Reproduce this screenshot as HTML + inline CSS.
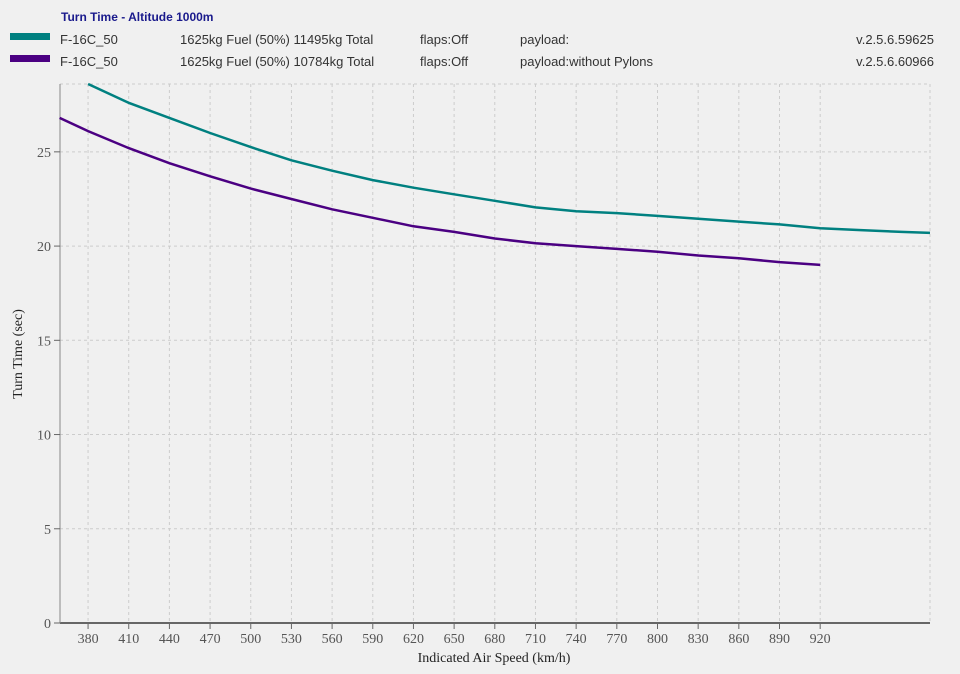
<!DOCTYPE html>
<html><head><meta charset="utf-8"><style>
body{margin:0;background:#f0f0f0;font-family:"Liberation Sans",sans-serif;}
svg{display:block}
</style></head><body>
<svg id="c" width="960" height="674">
<text x="61" y="21" font-size="12" font-weight="bold" fill="#1a1a8c">Turn Time - Altitude 1000m</text>
<g font-size="13" fill="#333">
<rect x="10" y="33" width="40" height="7" fill="#008080"/>
<text x="60" y="44">F-16C_50</text><text x="180" y="44">1625kg Fuel (50%) 11495kg Total</text>
<text x="420" y="44">flaps:Off</text><text x="520" y="44">payload:</text><text x="934" y="44" text-anchor="end">v.2.5.6.59625</text></g>
<g font-size="13" fill="#333">
<rect x="10" y="55" width="40" height="7" fill="#4b0082"/>
<text x="60" y="66">F-16C_50</text><text x="180" y="66">1625kg Fuel (50%) 10784kg Total</text>
<text x="420" y="66">flaps:Off</text><text x="520" y="66">payload:without Pylons</text><text x="934" y="66" text-anchor="end">v.2.5.6.60966</text></g>
<g id="grid"></g><g id="axes"></g><g id="series"></g>
<text x="494" y="662" text-anchor="middle" font-family="Liberation Serif,serif" font-size="14" fill="#222">Indicated Air Speed (km/h)</text>
<text transform="translate(22,354) rotate(-90)" text-anchor="middle" font-family="Liberation Serif,serif" font-size="14" fill="#222">Turn Time (sec)</text>
</svg>
<script>
const xTicks=[380,410,440,470,500,530,560,590,620,650,680,710,740,770,800,830,860,890,920];
const yTicks=[0,5,10,15,20,25];
const tealX=[380,410,440,470,500,530,560,590,620,650,680,710,740,770,800,830,860,890,920,950,980,1001];
const tealY=[28.6,27.6,26.8,26.0,25.25,24.55,24.0,23.5,23.1,22.75,22.4,22.05,21.85,21.75,21.6,21.45,21.3,21.15,20.95,20.85,20.75,20.7];
const purpX=[359,380,410,440,470,500,530,560,590,620,650,680,710,740,770,800,830,860,890,920];
const purpY=[26.8,26.1,25.2,24.4,23.7,23.05,22.5,21.95,21.5,21.05,20.75,20.4,20.15,20.0,19.85,19.7,19.5,19.35,19.15,19.0];
const X0=60,X1=930,Y0=623,Y1=84,xmin=359.3,xmax=1001,ymax=28.6;
const sx=v=>X0+(v-xmin)/(xmax-xmin)*(X1-X0);
const sy=v=>Y0-v/ymax*(Y0-Y1);
const NS="http://www.w3.org/2000/svg";
function mk(t,a,p){const e=document.createElementNS(NS,t);for(const k in a)e.setAttribute(k,a[k]);p.appendChild(e);return e;}
const g=document.getElementById('grid'),ax=document.getElementById('axes'),s=document.getElementById('series');
xTicks.concat([xmax]).forEach(v=>{const l=mk('line',{x1:sx(v),x2:sx(v),y1:Y1,y2:Y0,stroke:'#ccc','stroke-dasharray':'3,3'},g);

});
yTicks.concat([ymax]).forEach(v=>{if(v===0)return;const l=mk('line',{x1:X0,x2:X1,y1:sy(v),y2:sy(v),stroke:'#ccc','stroke-dasharray':'3,3'},g);

});
const xa=mk('line',{x1:X0,x2:X1,y1:Y0,y2:Y0,stroke:'#666','stroke-width':2},ax);


const ya=mk('line',{x1:X0,x2:X0,y1:Y1,y2:Y0,stroke:'#888','stroke-width':1},ax);


xTicks.forEach(v=>{mk('line',{x1:sx(v),x2:sx(v),y1:Y0,y2:Y0+6,stroke:'#666'},ax);
const t=mk('text',{x:sx(v),y:Y0+20,'text-anchor':'middle','font-family':'Liberation Serif,serif','font-size':14,fill:'#555'},ax);t.textContent=v;

});
yTicks.forEach(v=>{mk('line',{x1:X0-6,x2:X0,y1:sy(v),y2:sy(v),stroke:'#666'},ax);
const t=mk('text',{x:X0-9,y:sy(v)+5,'text-anchor':'end','font-family':'Liberation Serif,serif','font-size':14,fill:'#555'},ax);t.textContent=v;

});
function line(xs,ys,c,n){const d=xs.map((x,i)=>(i?'L':'M')+sx(x).toFixed(1)+','+sy(ys[i]).toFixed(1)).join('');
const p=mk('path',{d:d,fill:'none',stroke:c,'stroke-width':2.5},s);

}
line(tealX,tealY,'#008080','series-59625');
line(purpX,purpY,'#4b0082','series-60966');
</script>
</body></html>
